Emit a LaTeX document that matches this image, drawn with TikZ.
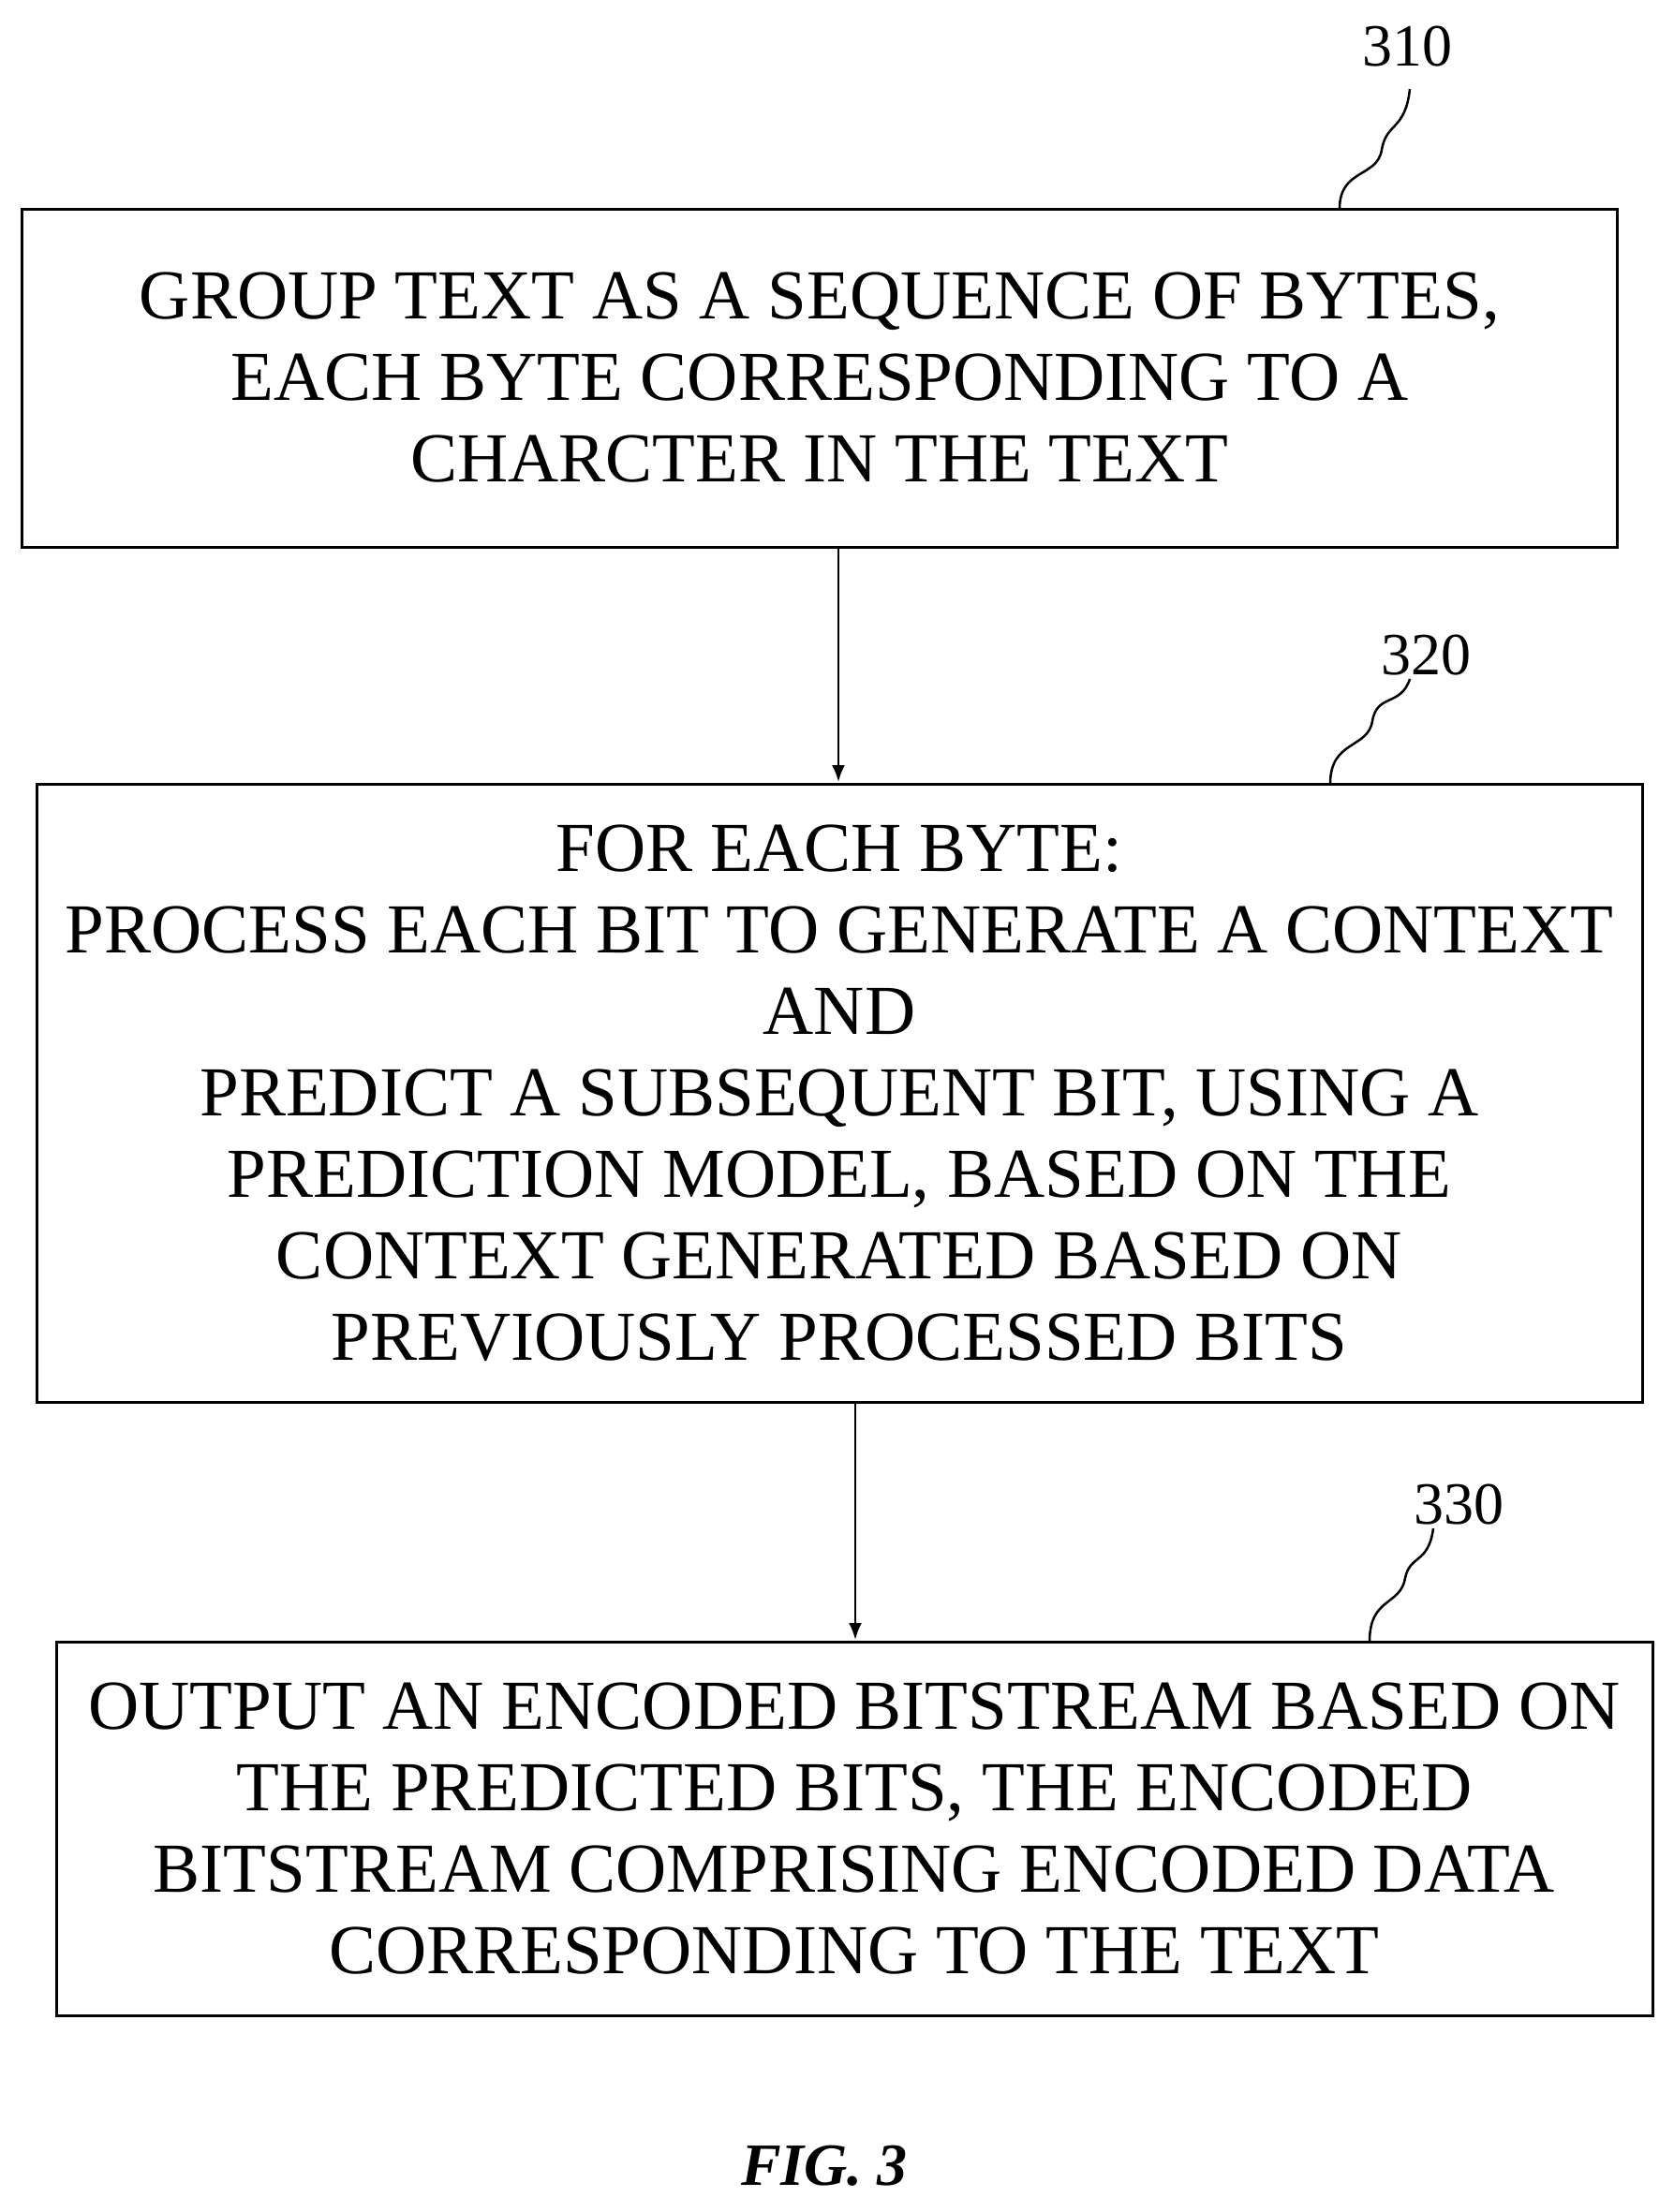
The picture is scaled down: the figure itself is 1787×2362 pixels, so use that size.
\documentclass[tikz,border=0pt]{standalone}
\usepackage{fontspec}
\setmainfont{Liberation Serif}
\tikzset{box/.style={draw,line width=3pt,inner sep=0pt},
 txt/.style={align=center,font=\fontsize{75}{87}\selectfont},
 lab/.style={font=\fontsize{64}{70}\selectfont},
 arr/.style={line width=2.5pt,-{Latex[length=18pt,width=14pt]}},
 sq/.style={line width=2.5pt}}
\usetikzlibrary{arrows.meta}
\begin{document}
\begin{tikzpicture}[x=1pt,y=1pt]
\useasboundingbox (0,0) rectangle (1787,-2362);
\draw[box] (23,-223) rectangle (1726,-584);
\coordinate (b1t) at (1430,-223);
\draw[box] (39,-837) rectangle (1753,-1497);
\coordinate (b2t) at (1420,-837);
\draw[box] (60,-1753) rectangle (1764,-2152);
\coordinate (b3t) at (1462,-1753);
\node[txt] (t1) at (875,-403) {GROUP TEXT AS A SEQUENCE OF BYTES,\\EACH BYTE CORRESPONDING TO A\\CHARCTER IN THE TEXT};
\node[txt] (t2) at (896,-1167) {FOR EACH BYTE:\\PROCESS EACH BIT TO GENERATE A CONTEXT\\AND\\PREDICT A SUBSEQUENT BIT, USING A\\PREDICTION MODEL, BASED ON THE\\CONTEXT GENERATED BASED ON\\PREVIOUSLY PROCESSED BITS};
\node[txt] (t3) at (912,-1953) {OUTPUT AN ENCODED BITSTREAM BASED ON\\THE PREDICTED BITS, THE ENCODED\\BITSTREAM COMPRISING ENCODED DATA\\CORRESPONDING TO THE TEXT};
\coordinate (a1s) at (895,-584); \coordinate (a1e) at (895,-835);
\draw[arr] (a1s) -- (a1e);
\coordinate (a2s) at (913,-1497); \coordinate (a2e) at (913,-1751);
\draw[arr] (a2s) -- (a2e);
\node[lab] (l1) at (1502,-50) {310};
\node[lab] (l2) at (1522,-700) {320};
\node[lab] (l3) at (1557,-1607) {330};
\draw[sq] (b1t) .. controls (1430,-180) and (1470,-190) .. (1475,-160) .. controls (1480,-130) and (1500,-140) .. (1505,-95);
\draw[sq] (b2t) .. controls (1420,-790) and (1460,-800) .. (1465,-770) .. controls (1470,-740) and (1495,-755) .. (1505,-725);
\draw[sq] (b3t) .. controls (1462,-1705) and (1495,-1715) .. (1500,-1685) .. controls (1505,-1660) and (1525,-1670) .. (1530,-1632);
\node[font=\fontsize{64}{70}\selectfont\bfseries\itshape] (fig) at (880,-2313) {FIG. 3};
\end{tikzpicture}
\end{document}
